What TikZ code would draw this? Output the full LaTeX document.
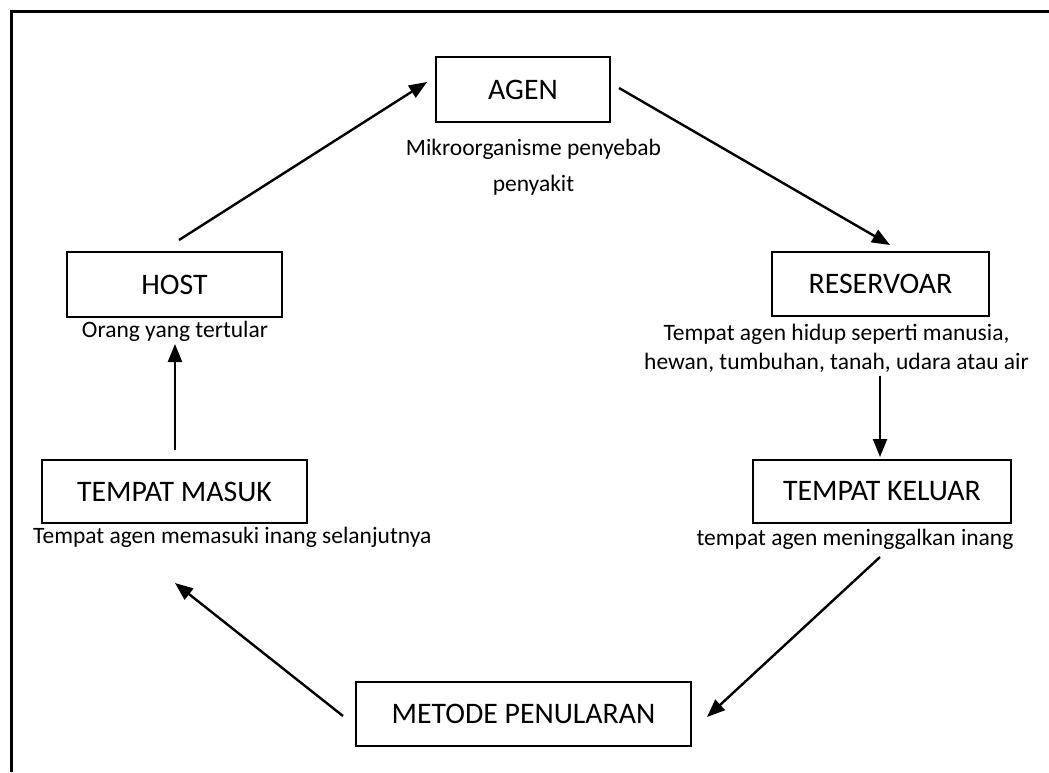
\documentclass[tikz,border=0pt]{standalone}
\usepackage{fontspec}
\setmainfont{Carlito}
\usetikzlibrary{arrows.meta}
\tikzset{
  box/.style={draw=black, line width=2.6pt, inner sep=0pt, font=\fontsize{29.8}{34}\selectfont},
  lbl/.style={inner sep=0pt, anchor=base, font=\fontsize{23.5}{30}\selectfont},
  arr/.style={line width=2.4pt, -{Triangle[length=18pt,width=14pt]}},
  frame/.style={line width=3pt}
}
\begin{document}
\begin{tikzpicture}[x=1pt,y=-1pt]
\useasboundingbox (0,0) rectangle (1049,772);
\coordinate (fb) at (11,772);
\coordinate (fc) at (11,11);
\coordinate (fr) at (1049,11);
\draw[frame] (fb) -- (fc) -- (fr);

\node[box, minimum width=174pt, minimum height=65pt] (agen) at (523,89.5) {AGEN};
\node[box, minimum width=215pt, minimum height=65pt] (host) at (174.5,284.5) {HOST};
\node[box, minimum width=217pt, minimum height=64pt] (res) at (880.5,284) {RESERVOAR};
\node[box, minimum width=265pt, minimum height=63pt] (masuk) at (174.5,491.5) {TEMPAT MASUK};
\node[box, minimum width=258pt, minimum height=63pt] (keluar) at (882,491.5) {TEMPAT KELUAR};
\node[box, minimum width=335pt, minimum height=64pt] (metode) at (523.5,714) {METODE PENULARAN};

\node[lbl] (lagen1) at (533.5,155) {Mikroorganisme penyebab};
\node[lbl] (lagen2) at (533.5,191) {penyakit};
\node[lbl] (lhost) at (175,337) {Orang yang tertular};
\node[lbl] (lres1) at (836.5,340) {Tempat agen hidup seperti manusia,};
\node[lbl] (lres2) at (836.5,369) {hewan, tumbuhan, tanah, udara atau air};
\node[lbl, anchor=base west] (lmasuk) at (33,543) {Tempat agen memasuki inang selanjutnya};
\node[lbl] (lkeluar) at (855,545) {tempat agen meninggalkan inang};

\coordinate (h2a1) at (179,240);
\coordinate (h2a2) at (427,82);
\coordinate (a2r1) at (619,88);
\coordinate (a2r2) at (890,245);
\coordinate (r2k1) at (880,376);
\coordinate (r2k2) at (880,457);
\coordinate (k2m1) at (880,557);
\coordinate (k2m2) at (707,717);
\coordinate (m2t1) at (343,716);
\coordinate (m2t2) at (175,583);
\coordinate (t2h1) at (175,450);
\coordinate (t2h2) at (175,344);

\draw[arr] (h2a1) -- (h2a2);
\draw[arr] (a2r1) -- (a2r2);
\draw[arr] (r2k1) -- (r2k2);
\draw[arr] (k2m1) -- (k2m2);
\draw[arr] (m2t1) -- (m2t2);
\draw[arr] (t2h1) -- (t2h2);
\end{tikzpicture}
\end{document}
